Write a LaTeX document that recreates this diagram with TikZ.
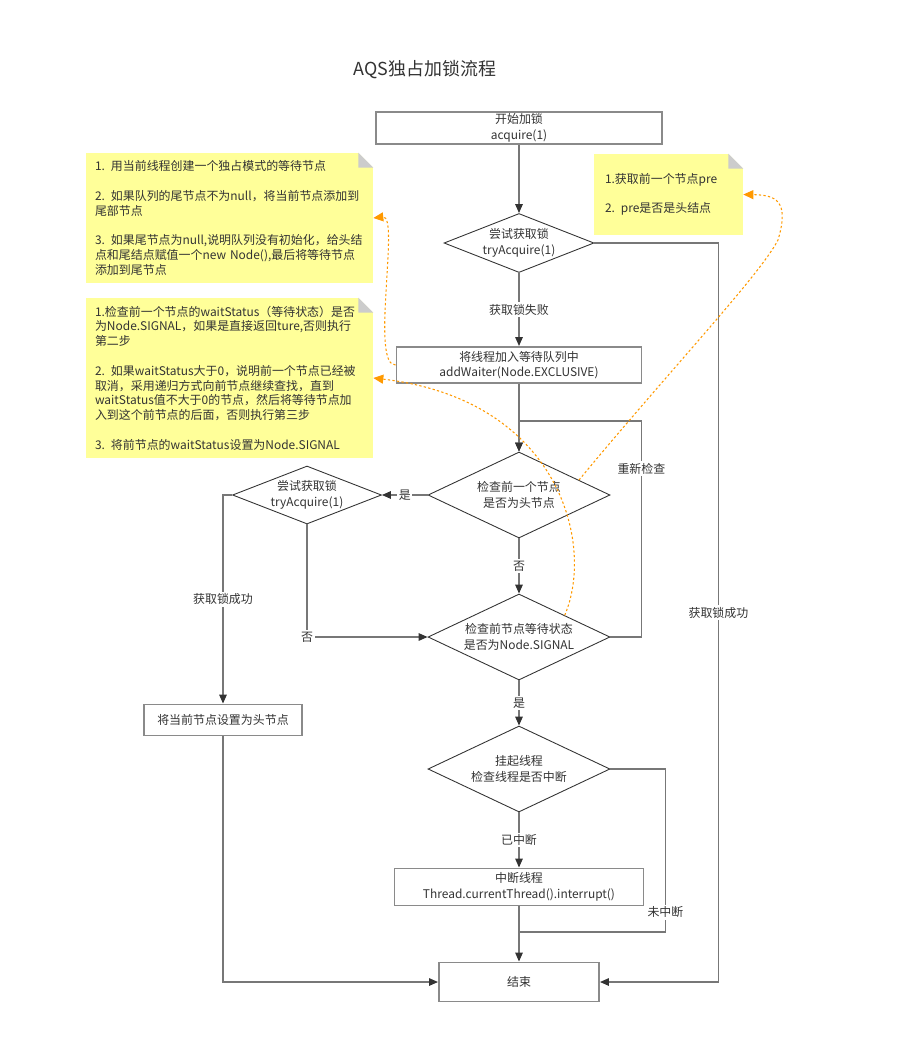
\documentclass[tikz,border=0pt]{standalone}
\usepackage{fontspec}
\setmainfont{Noto Sans CJK SC}
\usetikzlibrary{shapes.geometric,arrows.meta}
\definecolor{ink}{HTML}{333333}
\definecolor{edgegray}{HTML}{777777}
\definecolor{boxline}{HTML}{8A8A8A}
\definecolor{memoyellow}{HTML}{FFFF99}
\definecolor{foldgray}{HTML}{CCCCCC}
\definecolor{hintorange}{HTML}{FF9900}
\begin{document}
\begin{tikzpicture}[x=0.02cm,y=-0.02cm,
	every node/.style={text=ink,font=\fontsize{6.8}{8.8}\selectfont},
	box/.style={draw=boxline,fill=white,line width=1.1pt,align=center,inner sep=0},
	dia/.style={diamond,draw=ink,fill=white,line width=.5pt,align=center,inner sep=-4pt,aspect=2},
	memo/.style={fill=memoyellow,align=left,inner xsep=.18cm,inner ysep=0,font=\fontsize{6.8}{8.4}\selectfont},
	lbl/.style={fill=white,inner sep=1pt},
	wire/.style={draw=edgegray,line width=.8pt},
	arr/.style={wire,-{Triangle[length=1.8mm,width=1.5mm,color=ink]}},
	hint/.style={draw=hintorange,line width=.6pt,dash pattern=on 1.3pt off 1.3pt,-{Triangle[length=2mm,width=1.8mm,color=hintorange]}}]
	\useasboundingbox (0,0) rectangle (900,1055);
	\node (title) at (425,70) [font=\fontsize{10.2}{12}\selectfont] {AQS独占加锁流程};
	% notes
	\node[memo,minimum width=5.74cm,minimum height=2.6cm,text width=5.38cm] (n1) at (229.5,218) {1. 用当前线程创建一个独占模式的等待节点\\[8.4pt]2. 如果队列的尾节点不为null，将当前节点添加到\\尾部节点\\[8.4pt]3. 如果尾节点为null,说明队列没有初始化，给头结\\点和尾结点赋值一个new Node(),最后将等待节点\\添加到尾节点};
	\node[memo,minimum width=5.74cm,minimum height=3.2cm,text width=5.38cm] (n2) at (229.5,378) {1.检查前一个节点的waitStatus（等待状态）是否\\为Node.SIGNAL，如果是直接返回ture,否则执行\\第二步\\[8.4pt]2. 如果waitStatus大于0，说明前一个节点已经被\\取消，采用递归方式向前节点继续查找，直到\\waitStatus值不大于0的节点，然后将等待节点加\\入到这个前节点的后面，否则执行第三步\\[8.4pt]3. 将前节点的waitStatus设置为Node.SIGNAL};
	\node[memo,minimum width=2.98cm,minimum height=1.62cm,text width=2.54cm,inner xsep=.22cm] (n3) at (668.5,194.5) {1.获取前一个节点pre\\[8.4pt]2. pre是否是头结点};
	\foreach \n in {n1,n2,n3}{
		\fill[white] (\n.north east) -- +(-15,0) -- +(0,15) -- cycle;
		\fill[foldgray] (\n.north east) ++(-15,0) -- +(15,15) -- +(0,15) -- cycle;
	}
	% flow
	\node[box,minimum width=5.72cm,minimum height=.64cm] (start) at (519,128) {开始加锁\\acquire(1)};
	\node[dia,minimum width=3cm,minimum height=1.18cm] (try1) at (519,243) {尝试获取锁\\tryAcquire(1)};
	\node[box,minimum width=4.9cm,minimum height=.72cm] (wait) at (519,365) {将线程加入等待队列中\\addWaiter(Node.EXCLUSIVE)};
	\node[dia,minimum width=3.64cm,minimum height=1.72cm] (chk1) at (519,495) {检查前一个节点\\是否为头节点};
	\node[dia,minimum width=2.98cm,minimum height=1.16cm] (try2) at (307,495) {尝试获取锁\\tryAcquire(1)};
	\node[dia,minimum width=3.64cm,minimum height=1.72cm] (chk2) at (519,637) {检查前节点等待状态\\是否为Node.SIGNAL};
	\node[dia,minimum width=3.64cm,minimum height=1.72cm] (park) at (519,769) {挂起线程\\检查线程是否中断};
	\node[box,minimum width=4.98cm,minimum height=.74cm] (intr) at (519,887) {中断线程\\Thread.currentThread().interrupt()};
	\node[box,minimum width=3.16cm,minimum height=.62cm] (head) at (223,720) {将当前节点设置为头节点};
	\node[box,minimum width=3.2cm,minimum height=.78cm] (done) at (519,982) {结束};
	\coordinate (join) at (519,932);
	\draw[arr] (start) -- (try1);
	\draw[arr] (try1) -- node[lbl]{获取锁失败} (wait);
	\draw[arr] (try1.east) -- ++(124,0) |- node[lbl,pos=.25]{获取锁成功} (done.east);
	\draw[arr] (wait) -- (chk1);
	\draw[arr] (chk1) -- node[lbl]{否} (chk2);
	\draw[arr] (chk1.west) -- node[lbl]{是} (try2.east);
	\draw[arr] (try2.west) -| node[lbl,pos=.75]{获取锁成功} (head.north);
	\draw[arr] (try2.south) |- node[lbl,pos=.5]{否} (chk2.west);
	\draw[arr] (chk2.east) -| node[lbl,pos=.89]{重新检查} ++(31,-216) -| (chk1.north);
	\draw[arr] (chk2) -- node[lbl]{是} (park);
	\draw[arr] (park) -- node[lbl]{已中断} (intr);
	\draw[arr] (intr) -- (done);
	\draw[wire] (park.east) -| node[lbl,pos=.94]{未中断} ++(55,163) -- (join);
	\draw[arr] (head.south) |- (done.west);
	% hints to the notes
	\draw[hint] (wait.west) .. controls (370,366) and (400,215) .. (n1.east);
	\draw[hint] (chk2.north east) .. controls (595,545) and (560,400) .. (n2.east);
	\draw[hint] (chk1.14) .. controls (670,370) and (760,275) .. (778,240) .. controls (790,200) and (775,195) .. (n3.east);
\end{tikzpicture}
\end{document}
